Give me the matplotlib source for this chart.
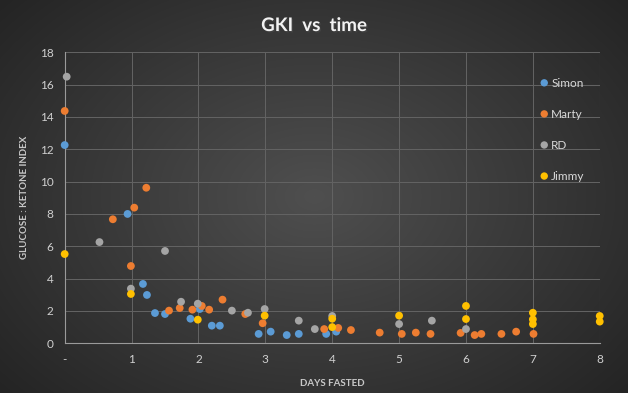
import numpy as np
import matplotlib.pyplot as plt
import matplotlib.patheffects as pe

# data (days fasted, GKI)
simon_x = [0.0, 0.94, 1.17, 1.23, 1.35, 1.50, 1.88, 2.02, 2.20, 2.32,
           2.90, 3.08, 3.32, 3.50, 3.91, 4.06]
simon_y = [12.26, 8.0, 3.67, 2.99, 1.87, 1.81, 1.52, 2.12, 1.09, 1.09,
           0.58, 0.72, 0.51, 0.58, 0.58, 0.72]

marty_x = [0.0, 0.72, 0.99, 1.04, 1.22, 1.56, 1.72, 1.91, 2.05, 2.16, 2.36,
           2.70, 2.96, 3.88, 4.09, 4.28, 4.71, 5.04, 5.25, 5.47, 5.92,
           6.13, 6.23, 6.53, 6.75, 7.01]
marty_y = [14.37, 7.67, 4.78, 8.39, 9.62, 2.02, 2.18, 2.08, 2.31, 2.08, 2.70,
           1.81, 1.24, 0.88, 0.95, 0.82, 0.66, 0.58, 0.66, 0.58, 0.64,
           0.51, 0.58, 0.58, 0.72, 0.58]

rd_x = [0.03, 0.52, 0.99, 1.50, 1.74, 1.99, 2.50, 2.74, 2.99, 3.50,
        3.74, 4.0, 5.0, 5.49, 6.0]
rd_y = [16.49, 6.26, 3.38, 5.71, 2.57, 2.45, 2.02, 1.89, 2.12, 1.40,
        0.88, 1.69, 1.19, 1.40, 0.88]

jimmy_x = [0.0, 0.99, 1.99, 2.99, 4.0, 4.0, 5.0, 6.0, 6.0, 7.0, 7.0, 7.0, 8.0, 8.0]
jimmy_y = [5.52, 3.05, 1.46, 1.71, 1.52, 1.0, 1.71, 2.31, 1.50, 1.89, 1.48, 1.19, 1.69, 1.34]

series = [("Simon", simon_x, simon_y, "#5B9BD5"),
          ("Marty", marty_x, marty_y, "#ED7D31"),
          ("RD", rd_x, rd_y, "#A5A5A5"),
          ("Jimmy", jimmy_x, jimmy_y, "#FFC000")]

xticks = np.arange(0, 9)
xlabels = ["-"] + [str(i) for i in range(1, 9)]
yticks = np.arange(0, 19, 2)

plt.rcParams['font.family'] = ['Lato', 'DejaVu Sans']

fig = plt.figure(figsize=(6.28, 3.93), dpi=100)

# radial gradient background
bg = fig.add_axes([0, 0, 1, 1], zorder=-10)
yy, xx = np.mgrid[0:393, 0:628]
r = np.sqrt(((xx - 314) / 420.0) ** 2 + ((yy - 196) / 300.0) ** 2)
shade = np.clip(0.31 - 0.17 * r, 0.14, 0.31)
bg.imshow(np.dstack([shade] * 3), aspect='auto', extent=[0, 1, 0, 1])
bg.axis('off')

ax = fig.add_axes([0.103, 0.1265, 0.852, 0.7405])
ax.patch.set_alpha(0)

shadow = [pe.SimpleLineShadow(offset=(1, -1), shadow_color='black', alpha=0.35), pe.Normal()]
for name, xs, ys, col in series:
    ax.plot(xs, ys, 'o', color=col, markersize=5.6, markeredgewidth=0, label=name,
            zorder=3, clip_on=False, path_effects=shadow)

ax.set_xlim(0, 8)
ax.set_ylim(0, 18)
ax.set_xticks(xticks)
ax.set_xticklabels(xlabels)
ax.set_yticks(yticks)
ax.grid(True, color='#626262', linewidth=0.75)
ax.set_axisbelow(True)
for s in ['top', 'right']:
    ax.spines[s].set_visible(False)
for s in ['left', 'bottom']:
    ax.spines[s].set_color('#9a9a9a')
ax.tick_params(colors='#d0d0d0', labelsize=8.5, length=0, pad=8)

ax.set_xlabel("DAYS FASTED", color='#c8c8c8', fontsize=7, fontweight='bold', labelpad=10)
ax.set_ylabel("GLUCOSE : KETONE INDEX", color='#c8c8c8', fontsize=7, fontweight='bold', labelpad=8)

fig.text(0.5, 0.935, "GKI  vs  time", color='#f2f2f2', fontsize=13.5, fontweight='bold',
         ha='center', va='center',
         path_effects=[pe.withSimplePatchShadow(offset=(1, -1), alpha=0.6)])

leg = ax.legend(loc='upper left', bbox_to_anchor=(0.872, 0.932), frameon=False,
                fontsize=8.5, labelspacing=1.7, handletextpad=0.0, handlelength=1.2,
                borderpad=0, markerscale=0.95)
for t in leg.get_texts():
    t.set_color('#d9d9d9')

fig.savefig("out.png", dpi=100)
